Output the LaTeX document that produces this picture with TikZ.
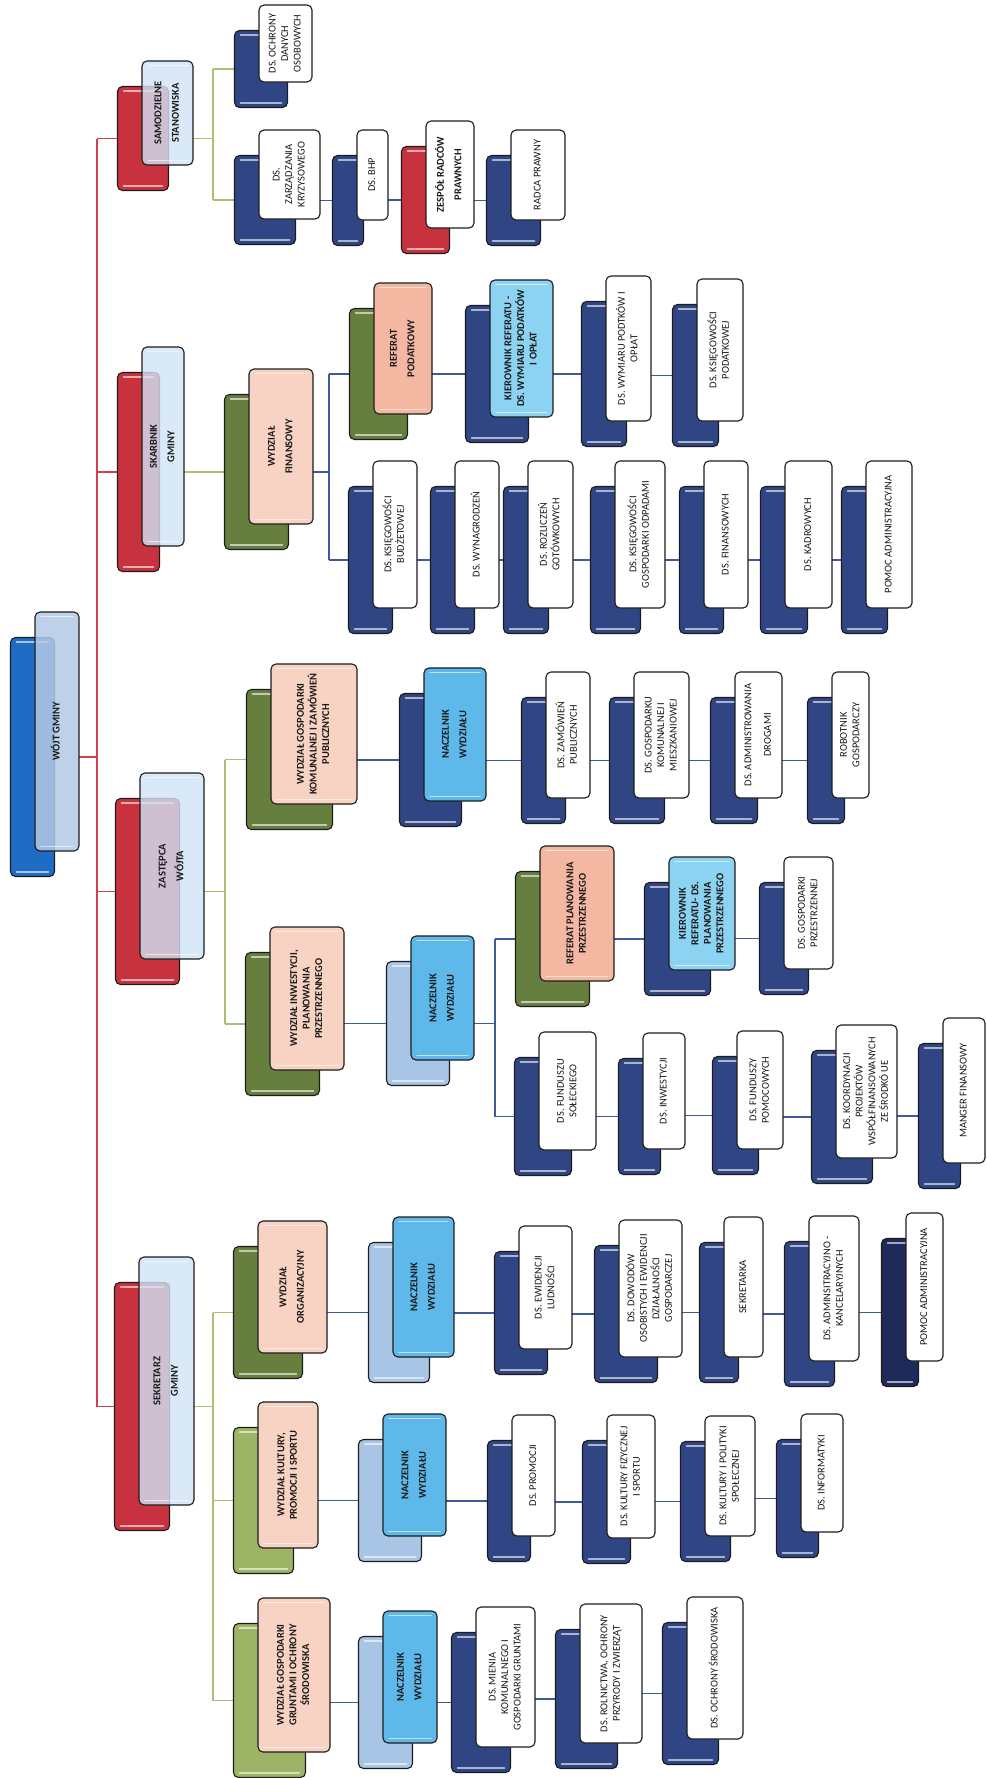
\documentclass[tikz,border=0pt]{standalone}
\usepackage{fontspec}
\setmainfont{Carlito}
\usepackage{graphicx}
\usetikzlibrary{backgrounds,calc}

\definecolor{cWojtB}{HTML}{1F6CC4}
\definecolor{cWojtF}{HTML}{B4CAE6}
\definecolor{cRed}{HTML}{C8323E}
\definecolor{cLoneF}{HTML}{D0E4F6}
\definecolor{cOliveD}{HTML}{667F3E}
\definecolor{cOliveL}{HTML}{9DB466}
\definecolor{cPeach}{HTML}{F8D3C3}
\definecolor{cSalmon}{HTML}{F4B7A2}
\definecolor{cNavy}{HTML}{2F4584}
\definecolor{cNavyD}{HTML}{1E2B5A}
\definecolor{cSteel}{HTML}{A9C5E6}
\definecolor{cSky}{HTML}{5FB8EA}
\definecolor{cSkyL}{HTML}{8CD3F2}
\definecolor{cLineR}{HTML}{D0404E}
\definecolor{cLineG}{HTML}{A9C26E}
\definecolor{cLineB}{HTML}{3D5A99}
\definecolor{cBorder}{HTML}{1C1C1C}
\definecolor{cText}{HTML}{1A1A1A}

\tikzset{
  box/.style={draw=cBorder, line width=1.1pt, rounded corners=5pt, inner sep=0pt,
    outer sep=0pt, text=cText, font=\fontsize{10.5}{12.5}\selectfont},
  gloss/.style={path picture={
    \draw[white, opacity=0.6, line width=1.5pt, line cap=round]
      ([xshift=6pt,yshift=-4.5pt]path picture bounding box.north west) --
      ([xshift=-6pt,yshift=-4.5pt]path picture bounding box.north east)
      ([xshift=6pt,yshift=4.5pt]path picture bounding box.south west) --
      ([xshift=-6pt,yshift=4.5pt]path picture bounding box.south east);}},
  boldtext/.style={font=\fontsize{10.5}{12.5}\selectfont\bfseries},
  bBlue/.style={box, gloss, fill=cWojtB},
  bRed/.style={box, gloss, fill=cRed},
  bOliveD/.style={box, gloss, fill=cOliveD},
  bOliveL/.style={box, gloss, fill=cOliveL},
  bNavy/.style={box, gloss, fill=cNavy},
  bNavyD/.style={box, gloss, fill=cNavyD},
  bSteel/.style={box, gloss, fill=cSteel},
  fWojt/.style={box, gloss, boldtext, fill=cWojtF, fill opacity=0.85, text opacity=1},
  fLone/.style={box, gloss, boldtext, fill=cLoneF, fill opacity=0.8, text opacity=1},
  fPeach/.style={box, gloss, boldtext, fill=cPeach},
  fSalmon/.style={box, gloss, boldtext, fill=cSalmon},
  fSky/.style={box, gloss, boldtext, fill=cSky},
  fSkyL/.style={box, gloss, boldtext, fill=cSkyL},
  fWhiteB/.style={box, boldtext, fill=white},
  fWhite/.style={box, fill=white},
  lR/.style={draw=cLineR, line width=1.8pt},
  lG/.style={draw=cLineG, line width=1.8pt},
  lB/.style={draw=cLineB, line width=1.8pt},
}

% #1 name, #2 x1, #3 y1, #4 x2, #5 y2 (front box), #6 back style, #7 front style, #8 text
\newcommand{\unitbox}[8]{%
  \node[#6, minimum width={(#4)-(#2)}, minimum height={(#5)-(#3)}] (#1-b)
    at ({(#2+#4)/2-24.5},{(#3+#5)/2+25.5}) {};
  \node[#7, minimum width={(#4)-(#2)}, minimum height={(#5)-(#3)}] (#1-f)
    at ({(#2+#4)/2},{(#3+#5)/2}) {\rotatebox{90}{\begin{tabular}{@{}c@{}}#8\end{tabular}}};
}

\begin{document}
\begin{tikzpicture}[x=1pt,y=-1pt]
\useasboundingbox (0,0) rectangle (987,1778);

% root and level 1
\unitbox{wojt}{35}{612}{79}{851}{bBlue}{fWojt}{WÓJT GMINY}
\unitbox{sam}{142}{61}{193}{165}{bRed}{fLone}{SAMODZIELNE\\[5pt]STANOWISKA}
\unitbox{skarb}{142}{347}{184}{546}{bRed}{fLone}{SKARBNIK\\[5pt]GMINY}
\unitbox{zast}{140}{773}{204}{959}{bRed}{fLone}{ZASTĘPCA\\[5pt]WÓJTA}
\unitbox{sekr}{139}{1257}{194}{1505}{bRed}{fLone}{SEKRETARZ\\[5pt]GMINY}

% samodzielne stanowiska
\unitbox{ochr}{259}{5}{312}{82}{bNavy}{fWhite}{DS. OCHRONY\\DANYCH\\OSOBOWYCH}
\unitbox{zarz}{259}{130}{320}{219}{bNavy}{fWhite}{DS.\\ZARZĄDZANIA\\KRYZYSOWEGO}
\unitbox{bhp}{357}{130}{388}{220}{bNavy}{fWhite}{DS. BHP}
\unitbox{zesp}{426}{121}{474}{228}{bRed}{fWhiteB}{ZESPÓŁ RADCÓW\\[5pt]PRAWNYCH}
\unitbox{radca}{511}{130}{565}{220}{bNavy}{fWhite}{RADCA PRAWNY}

% skarbnik
\unitbox{wfin}{249}{369}{313}{524}{bOliveD}{fPeach}{WYDZIAŁ\\[5pt]FINANSOWY}
\unitbox{refpod}{374}{283}{432}{414}{bOliveD}{fSalmon}{REFERAT\\[5pt]PODATKOWY}
\unitbox{kierpod}{490}{280}{553}{417}{bNavy}{fSkyL}{KIEROWNIK REFERATU -\\DS. WYMIARU PODATKÓW\\I OPŁAT}
\unitbox{wymiar}{606}{276}{651}{421}{bNavy}{fWhite}{DS. WYMIARU PODTKÓW I\\OPŁAT}
\unitbox{ksiegpod}{697}{279}{743}{421}{bNavy}{fWhite}{DS. KSIĘGOWOŚCI\\PODATKOWEJ}
\unitbox{ksbud}{373}{461}{417}{608}{bNavy}{fWhite}{DS. KSIĘGOWOŚCI\\BUDŻETOWEJ}
\unitbox{wynag}{455}{461}{499}{608}{bNavy}{fWhite}{DS. WYNAGRODZEŃ}
\unitbox{rozl}{528}{461}{573}{608}{bNavy}{fWhite}{DS. ROZLICZEŃ\\GOTÓWKOWYCH}
\unitbox{odpad}{615}{461}{665}{608}{bNavy}{fWhite}{DS. KSIĘGOWOŚCI\\GOSPODARKI ODPADAMI}
\unitbox{finans}{704}{461}{748}{608}{bNavy}{fWhite}{DS. FINANSOWYCH}
\unitbox{kadr}{785}{461}{832}{608}{bNavy}{fWhite}{DS. KADROWYCH}
\unitbox{pomocfin}{866}{461}{912}{608}{bNavy}{fWhite}{POMOC ADMINISTRACYJNA}

% zastepca
\unitbox{wkom}{271}{664}{357}{804}{bOliveD}{fPeach}{WYDZIAŁ GOSPODARKI\\KOMUNALNEJ I ZAMÓWIEŃ\\PUBLICZNYCH}
\unitbox{naczkom}{424}{668}{486}{801}{bNavy}{fSky}{NACZELNIK\\[5pt]WYDZIAŁU}
\unitbox{zamow}{546}{672}{590}{798}{bNavy}{fWhite}{DS. ZAMÓWIEŃ\\PUBLICZNYCH}
\unitbox{gkm}{634}{672}{689}{798}{bNavy}{fWhite}{DS. GOSPODARKU\\KOMUNALNEJ I\\MIESZKANIOWEJ}
\unitbox{drogi}{735}{672}{782}{798}{bNavy}{fWhite}{DS. ADMINISTROWANIA\\[7pt]DROGAMI}
\unitbox{robot}{832}{672}{869}{798}{bNavy}{fWhite}{ROBOTNIK\\GOSPODARCZY}

\unitbox{winw}{270}{927}{344}{1070}{bOliveD}{fPeach}{WYDZIAŁ INWESTYCJI,\\PLANOWANIA\\PRZESTRZENNEGO}
\unitbox{naczinw}{411}{936}{474}{1060}{bSteel}{fSky}{NACZELNIK\\[5pt]WYDZIAŁU}
\unitbox{refplan}{540}{846}{614}{981}{bOliveD}{fSalmon}{REFERAT PLANOWANIA\\PRZESTRZENNEGO}
\unitbox{kierplan}{669}{857}{735}{970}{bNavy}{fSkyL}{KIEROWNIK\\REFERATU- DS.\\PLANOWANIA\\PRZESTRZENNEGO}
\unitbox{gprz}{784}{857}{833}{969}{bNavy}{fWhite}{DS. GOSPODARKI\\PRZESTRZENNEJ}
\unitbox{fsol}{539}{1032}{596}{1150}{bNavy}{fWhite}{DS. FUNDUSZU\\SOŁECKIEGO}
\unitbox{inwest}{643}{1033}{685}{1149}{bNavy}{fWhite}{DS. INWESTYCJI}
\unitbox{fpom}{737}{1031}{783}{1149}{bNavy}{fWhite}{DS. FUNDUSZY\\POMOCOWYCH}
\unitbox{koord}{836}{1025}{897}{1158}{bNavy}{fWhite}{DS. KOORDYNACJI\\PROJEKTÓW\\WSPÓŁFINANSOWANYCH\\ZE ŚRODKÓ UE}
\unitbox{manger}{943}{1018}{985}{1163}{bNavy}{fWhite}{MANGER FINANSOWY}

% sekretarz
\unitbox{worg}{258}{1221}{327}{1353}{bOliveD}{fPeach}{WYDZIAŁ\\[5pt]ORGANIZACYJNY}
\unitbox{wkult}{258}{1402}{318}{1548}{bOliveL}{fPeach}{WYDZIAŁ KULTURY,\\PROMOCJI I SPORTU}
\unitbox{wgrunt}{258}{1598}{330}{1752}{bOliveL}{fPeach}{WYDZIAŁ GOSPODARKI\\GRUNTAMI I OCHRONY\\ŚRODOWISKA}

\unitbox{naczorg}{393}{1217}{454}{1357}{bSteel}{fSky}{NACZELNIK\\[5pt]WYDZIAŁU}
\unitbox{ewid}{519}{1226}{572}{1349}{bNavy}{fWhite}{DS. EWIDENCJI\\LUDNOŚCI}
\unitbox{dowod}{619}{1220}{682}{1357}{bNavy}{fWhite}{DS. DOWODÓW\\OSOBISTYCH I EWIDENCJI\\DZIAŁALNOŚCI\\GOSPODARCZEJ}
\unitbox{sekretarka}{724}{1217}{763}{1357}{bNavy}{fWhite}{SEKRETARKA}
\unitbox{kancel}{809}{1216}{859}{1361}{bNavy}{fWhite}{DS. ADMINSITRACYJNO -\\KANCELARYJNYCH}
\unitbox{pomocorg}{906}{1213}{943}{1361}{bNavyD}{fWhite}{POMOC ADMINISTRACYJNA}

\unitbox{naczkult}{383}{1414}{446}{1536}{bSteel}{fSky}{NACZELNIK\\[5pt]WYDZIAŁU}
\unitbox{promo}{512}{1415}{555}{1536}{bNavy}{fWhite}{DS. PROMOCJI}
\unitbox{kfiz}{607}{1415}{655}{1538}{bNavy}{fWhite}{DS. KULTURY FIZYCZNEJ\\I SPORTU}
\unitbox{kpol}{705}{1416}{755}{1536}{bNavy}{fWhite}{DS. KULTURY I POLITYKI\\SPOŁECZNEJ}
\unitbox{inform}{801}{1414}{843}{1532}{bNavy}{fWhite}{DS. INFORMATYKI}

\unitbox{naczgr}{383}{1611}{437}{1743}{bSteel}{fSky}{NACZELNIK\\[5pt]WYDZIAŁU}
\unitbox{mienie}{476}{1607}{535}{1747}{bNavy}{fWhite}{DS. MIENIA\\KOMUNALNEGO I\\GOSPODARKI GRUNTAMI}
\unitbox{roln}{580}{1604}{642}{1743}{bNavy}{fWhite}{DS. ROLNICTWA, OCHRONY\\PRZYRODY I ZWIERZĄT}
\unitbox{ochrsr}{687}{1597}{743}{1739}{bNavy}{fWhite}{DS. OCHRONY ŚRODOWISKA}

\begin{scope}[on background layer]
  \fill[white] (0,0) rectangle (987,1778);
  % red trunk
  \coordinate (rt) at (97,0);
  \draw[lR] (wojt-f.east |- wojt-b.center) -- (rt |- wojt-b.center);
  \draw[lR] (rt |- sam-b.center) -- (rt |- sekr-b.center);
  \foreach \n in {sam,skarb,zast,sekr} \draw[lR] (rt |- \n-b.center) -- (\n-b.west);
  % samodzielne stanowiska
  \coordinate (gs) at (213,0);
  \draw[lG] (sam-f.east |- sam-b.center) -- (gs |- sam-b.center);
  \draw[lG] (gs |- ochr-b.center) -- (gs |- zarz-b.center);
  \foreach \n in {ochr,zarz} \draw[lG] (gs |- \n-b.center) -- (\n-b.west);
  % skarbnik
  \draw[lG] (skarb-f.east |- wfin-b.center) -- (wfin-b.west);
  \coordinate (bf) at (329,0);
  \draw[lB] (wfin-f.east |- wfin-b.center) -- (bf |- wfin-b.center);
  \draw[lB] (bf |- refpod-b.center) -- (bf |- ksbud-b.center);
  \foreach \n in {refpod,ksbud} \draw[lB] (bf |- \n-b.center) -- (\n-b.west);
  % zastepca
  \coordinate (gz) at (225,0);
  \draw[lG] (zast-f.east |- zast-b.center) -- (gz |- zast-b.center);
  \draw[lG] (gz |- wkom-b.center) -- (gz |- winw-b.center);
  \foreach \n in {wkom,winw} \draw[lG] (gz |- \n-b.center) -- (\n-b.west);
  \coordinate (bi) at (495,0);
  \draw[lB] (naczinw-f.east |- naczinw-b.center) -- (bi |- naczinw-b.center);
  \draw[lB] (bi |- refplan-b.center) -- (bi |- fsol-b.center);
  \foreach \n in {refplan,fsol} \draw[lB] (bi |- \n-b.center) -- (\n-b.west);
  % sekretarz
  \coordinate (gk) at (213,0);
  \draw[lG] (sekr-f.east |- sekr-b.center) -- (gk |- sekr-b.center);
  \draw[lG] (gk |- worg-b.center) -- (gk |- wgrunt-b.center);
  \foreach \n in {worg,wkult,wgrunt} \draw[lG] (gk |- \n-b.center) -- (\n-b.west);
  % chains
  \foreach \a/\b in {zarz/bhp,bhp/zesp,zesp/radca,
      refpod/kierpod,kierpod/wymiar,wymiar/ksiegpod,
      ksbud/wynag,wynag/rozl,rozl/odpad,odpad/finans,finans/kadr,kadr/pomocfin,
      wkom/naczkom,naczkom/zamow,zamow/gkm,gkm/drogi,drogi/robot,
      winw/naczinw,refplan/kierplan,kierplan/gprz,
      fsol/inwest,inwest/fpom,fpom/koord,koord/manger,
      worg/naczorg,naczorg/ewid,ewid/dowod,dowod/sekretarka,sekretarka/kancel,kancel/pomocorg,
      wkult/naczkult,naczkult/promo,promo/kfiz,kfiz/kpol,kpol/inform,
      wgrunt/naczgr,naczgr/mienie,mienie/roln,roln/ochrsr}
    \draw[lB] (\a-f.east |- \b-b.center) -- (\b-b.west);
\end{scope}
\end{tikzpicture}
\end{document}
